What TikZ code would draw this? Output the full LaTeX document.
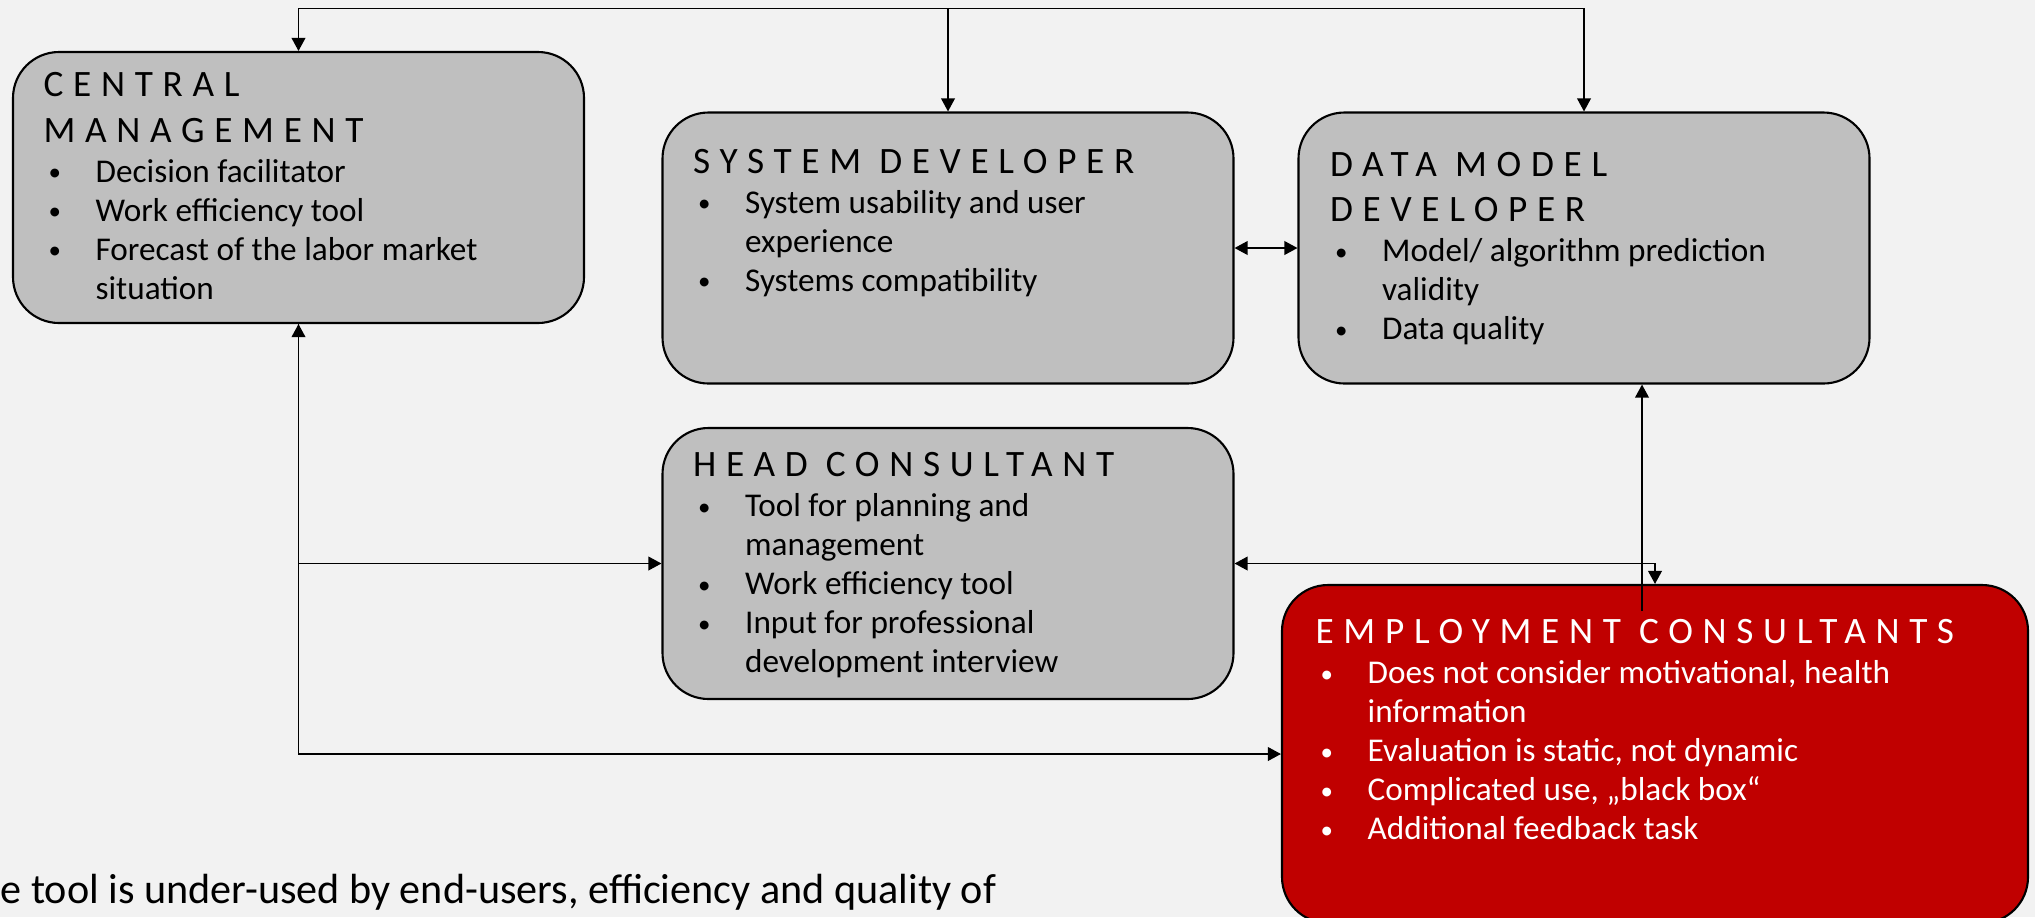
\documentclass[tikz,border=0pt]{standalone}
\usepackage{fontspec}
\setmainfont{Carlito}
\newfontfamily\titlefont[LetterSpace=26]{Carlito}
\usepackage{xcolor}
\usepackage{tikz}
\usetikzlibrary{arrows.meta}
\definecolor{pagebg}{HTML}{F2F2F2}
\definecolor{rolegray}{HTML}{BFBFBF}
\definecolor{leadred}{HTML}{C00000}

\newcommand{\roletitle}[1]{{\titlefont\fontsize{10.6pt}{0.455cm}\selectfont #1\par}\vspace{0.01cm}}
\newcommand{\rolebullet}{\raisebox{0.12ex}{\scalebox{0.75}{\textbullet}}}
\newcommand{\rolepoint}[1]{\par\noindent\hangindent=0.52cm\hangafter=1\hspace*{0.05cm}\makebox[0.47cm][l]{\rolebullet}#1}
\newcommand{\rolecard}[1]{\parbox[t]{7cm}{\fontsize{9.45pt}{0.39cm}\selectfont #1}}

\tikzset{
  role/.style    ={rectangle,draw,line width=0.6pt,rounded corners=0.46cm,minimum width=5.71cm,minimum height=2.71cm,inner sep=0pt,fill=rolegray},
  lead/.style    ={fill=leadred,minimum width=7.46cm,minimum height=3.38cm},
  roletext/.style={anchor=base west,inner sep=0pt},
  link/.style    ={line width=0.4pt},
}

\begin{document}
\begin{tikzpicture}[>={Triangle[length=3.7pt,width=3.9pt]}]
  \fill[pagebg] (0,0) rectangle (20.35,-9.17);
  \useasboundingbox (0,0) rectangle (20.35,-9.17);

  \node[role] (central)  at (2.985,-1.875) {};
  \node[role] (sysdev)   at (9.48,-2.48)   {};
  \node[role] (datadev)  at (15.84,-2.48)  {};
  \node[role] (headcons) at (9.48,-5.635)  {};
  \node[role,lead] (empcons) at (16.55,-7.54) {};

  \node[roletext] (central-txt) at ([shift={(0.31,-0.46)}]central.north west)
    {\rolecard{\roletitle{CENTRAL\\MANAGEMENT}%
      \rolepoint{Decision facilitator}%
      \rolepoint{Work efficiency tool}%
      \rolepoint{Forecast of the labor market\\situation}}};
  \node[roletext] (sysdev-txt) at ([shift={(0.31,-0.62)}]sysdev.north west)
    {\rolecard{\roletitle{SYSTEM DEVELOPER}%
      \rolepoint{System usability and user\\experience}%
      \rolepoint{Systems compatibility}}};
  \node[roletext] (datadev-txt) at ([shift={(0.32,-0.65)}]datadev.north west)
    {\rolecard{\roletitle{DATA MODEL\\DEVELOPER}%
      \rolepoint{Model/ algorithm prediction\\validity}%
      \rolepoint{Data quality}}};
  \node[roletext] (headcons-txt) at ([shift={(0.31,-0.50)}]headcons.north west)
    {\rolecard{\roletitle{HEAD CONSULTANT}%
      \rolepoint{Tool for planning and\\management}%
      \rolepoint{Work efficiency tool}%
      \rolepoint{Input for professional\\development interview}}};
  \node[roletext,text=white] (empcons-txt) at ([shift={(0.34,-0.60)}]empcons.north west)
    {\rolecard{\roletitle{EMPLOYMENT CONSULTANTS}%
      \rolepoint{Does not consider motivational, health\\information}%
      \rolepoint{Evaluation is static, not dynamic}%
      \rolepoint{Complicated use, „black box“}%
      \rolepoint{Additional feedback task}}};

  % connectors
  \coordinate (bus) at ([yshift=1.03cm]sysdev.north);
  \coordinate (feed) at (16.42,-6.11);
  \draw[link,<->] (central.north) |- (bus) -| (datadev.north);
  \draw[link,->] (bus) -- (sysdev.north);
  \draw[link,<->] (sysdev.east) -- (datadev.west);
  \draw[link,<->] (central.south) |- (headcons.west);
  \draw[link,->] (central.south) |- (empcons.west);
  \draw[link,<->] (headcons.east) -| (empcons.north);
  \draw[link,->] (feed) -- (feed |- datadev.south);

  \node[anchor=base west,inner sep=0pt,font=\fontsize{12pt}{14pt}\selectfont] (summary) at (0,-9.03)
    {e tool is under-used by end-users, efficiency and quality of};
\end{tikzpicture}
\end{document}
